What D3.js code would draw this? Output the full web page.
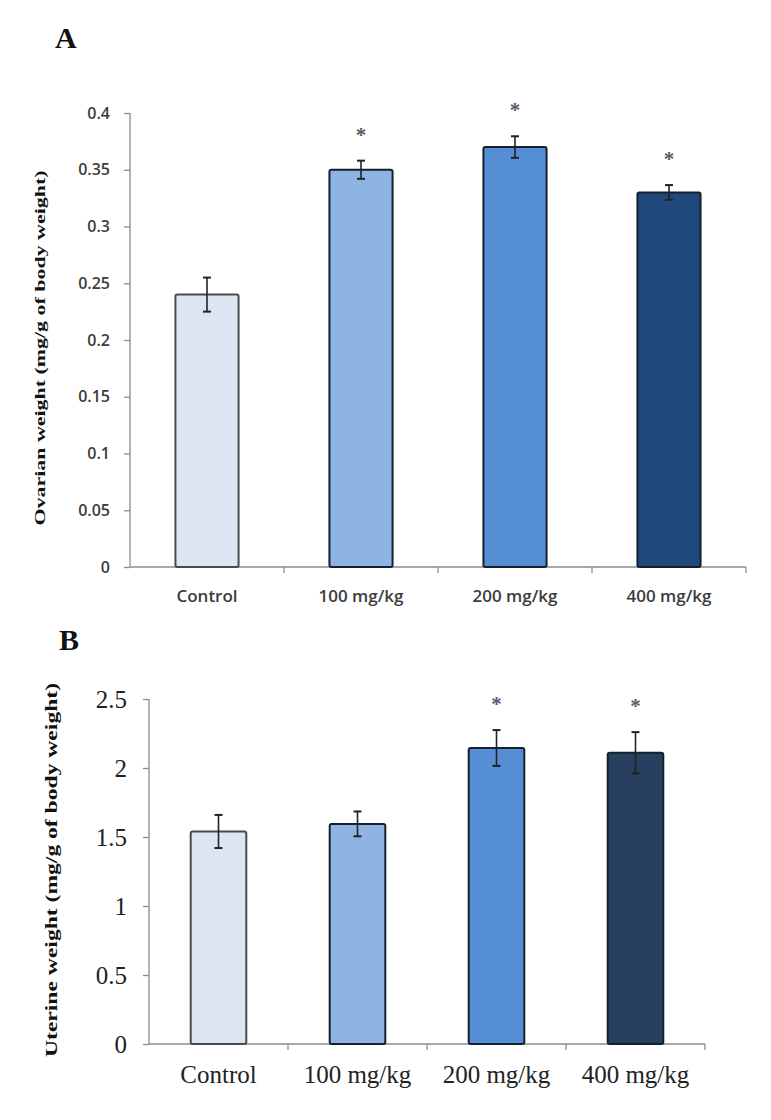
<!DOCTYPE html>
<html><head><meta charset="utf-8">
<script src="https://cdn.jsdelivr.net/npm/d3@7/dist/d3.min.js"></script>
<style>body{margin:0;background:#fff}svg{display:block}</style>
</head><body>
<script>
const categories = ["Control", "100 mg/kg", "200 mg/kg", "400 mg/kg"];
const ovarianMean = [0.24, 0.35, 0.37, 0.33];
const ovarianErr = [0.015, 0.008, 0.0095, 0.0065];
const ovarianSig = [false, true, true, true];
const uterineMean = [1.54, 1.595, 2.145, 2.11];
const uterineErr = [0.12, 0.09, 0.13, 0.15];
const uterineSig = [false, false, true, true];
const ovarianTicks = [0, 0.05, 0.1, 0.15, 0.2, 0.25, 0.3, 0.35, 0.4];
const uterineTicks = [0, 0.5, 1, 1.5, 2, 2.5];
const colorsA = ["#dce6f2", "#8eb4e3", "#558ed5", "#1f497d"];
const colorsB = ["#dce6f2", "#8eb4e3", "#558ed5", "#27405f"];

const svg = d3.select("body").append("svg").attr("width", 771).attr("height", 1120);

function panel(o) {
  const g = svg.append("g");
  const x = d3.scaleBand().domain(categories).range([o.x0, o.x1]).paddingInner(o.pad).paddingOuter(o.pad / 2);
  const y = d3.scaleLinear().domain([0, o.max]).range([o.y0, o.y1]);
  const ya = g.append("g").attr("transform", `translate(${o.x0},0)`)
    .call(d3.axisLeft(y).tickValues(o.ticks).tickSize(6).tickPadding(o.tickPad).tickFormat(d3.format("")));
  ya.select(".domain").attr("stroke", "#8c8c8c").attr("stroke-width", 1.3).attr("d", `M0,${o.y1}V${o.y0}`);
  ya.selectAll(".tick line").attr("stroke", "#8c8c8c").attr("stroke-width", 1.3);
  ya.selectAll(".tick text").attr("font-family", o.tickFont).attr("font-size", o.tickSize)
    .attr("fill", o.tickColor).attr("font-weight", o.tickWeight);
  const xa = g.append("g").attr("transform", `translate(0,${o.y0})`)
    .call(d3.axisBottom(x).tickSize(0).tickPadding(o.xPad));
  xa.select(".domain").attr("stroke", "#8c8c8c").attr("stroke-width", 1.3).attr("d", `M${o.x0},0H${o.x1}`);
  xa.selectAll(".tick text").attr("font-family", o.tickFont).attr("font-size", o.xSize)
    .attr("fill", o.tickColor).attr("font-weight", o.tickWeight);
  const bounds = d3.range(1, categories.length + 1).map(i => o.x0 + i * (o.x1 - o.x0) / categories.length);
  g.selectAll(".bt").data(bounds).join("line")
    .attr("x1", d => d).attr("x2", d => d).attr("y1", o.y0).attr("y2", o.y0 + 6)
    .attr("stroke", "#8c8c8c").attr("stroke-width", 1.3);
  const data = categories.map((c, i) => ({c, v: o.mean[i], e: o.err[i], s: o.sig[i], col: o.colors[i], i}));
  g.selectAll(".bar").data(data).join("rect")
    .attr("x", d => x(d.c)).attr("width", x.bandwidth())
    .attr("y", d => y(d.v)).attr("height", d => y(0) - y(d.v))
    .attr("rx", 2)
    .attr("fill", d => d.col).attr("stroke", d => d.i === 0 ? "#4a4a4a" : "#15202e").attr("stroke-width", 2);
  const eb = g.selectAll(".eb").data(data).join("g");
  eb.append("line").attr("x1", d => x(d.c) + x.bandwidth() / 2).attr("x2", d => x(d.c) + x.bandwidth() / 2)
    .attr("y1", d => y(d.v + d.e)).attr("y2", d => y(d.v - d.e)).attr("stroke", "#222").attr("stroke-width", 1.6);
  [1, -1].forEach(s => {
    eb.append("line").attr("x1", d => x(d.c) + x.bandwidth() / 2 - 4).attr("x2", d => x(d.c) + x.bandwidth() / 2 + 4)
      .attr("y1", d => y(d.v + s * d.e)).attr("y2", d => y(d.v + s * d.e)).attr("stroke", "#222").attr("stroke-width", 2);
  });
  g.selectAll(".ast").data(data.filter(d => d.s)).join("text")
    .attr("x", d => x(d.c) + x.bandwidth() / 2).attr("y", d => y(d.v + d.e) - o.astOff)
    .attr("text-anchor", "middle").attr("font-family", "Liberation Serif").attr("font-weight", "bold")
    .attr("font-size", 21).attr("fill", "#5a5a6a").text("*");
  svg.append("text").attr("x", o.lx).attr("y", o.ly).attr("font-family", "Liberation Serif")
    .attr("font-weight", "bold").attr("font-size", 30).attr("fill", "#111").text(o.letter);
  svg.append("text").attr("transform", `translate(${o.tx},${o.ty}) rotate(-90)`)
    .attr("text-anchor", "middle").attr("font-family", "Liberation Serif").attr("font-weight", "bold")
    .attr("font-size", o.tSize).attr("fill", "#111")
    .attr("textLength", o.tLen).attr("lengthAdjust", "spacingAndGlyphs").text(o.title);
}

panel({x0: 130, x1: 746, y0: 567, y1: 113, max: 0.4, pad: 0.59, ticks: ovarianTicks,
  mean: ovarianMean, err: ovarianErr, sig: ovarianSig, colors: colorsA,
  tickFont: "Open Sans, Liberation Sans, sans-serif", tickSize: 16, tickColor: "#3c3c3c", tickWeight: 600,
  tickPad: 14, xPad: 23, xSize: 17, astOff: 19,
  letter: "A", lx: 55, ly: 48, tx: 45, ty: 348, tSize: 15, tLen: 355,
  title: "Ovarian weight (mg/g of body weight)"});

panel({x0: 149, x1: 705, y0: 1044, y1: 699, max: 2.5, pad: 0.6, ticks: uterineTicks,
  mean: uterineMean, err: uterineErr, sig: uterineSig, colors: colorsB,
  tickFont: "Liberation Serif, serif", tickSize: 25, tickColor: "#222", tickWeight: "normal",
  tickPad: 16, xPad: 21, xSize: 25, astOff: 19,
  letter: "B", lx: 59, ly: 650, tx: 57, ty: 870, tSize: 16, tLen: 374,
  title: "Uterine weight (mg/g of body weight)"});
</script>
</body></html>
